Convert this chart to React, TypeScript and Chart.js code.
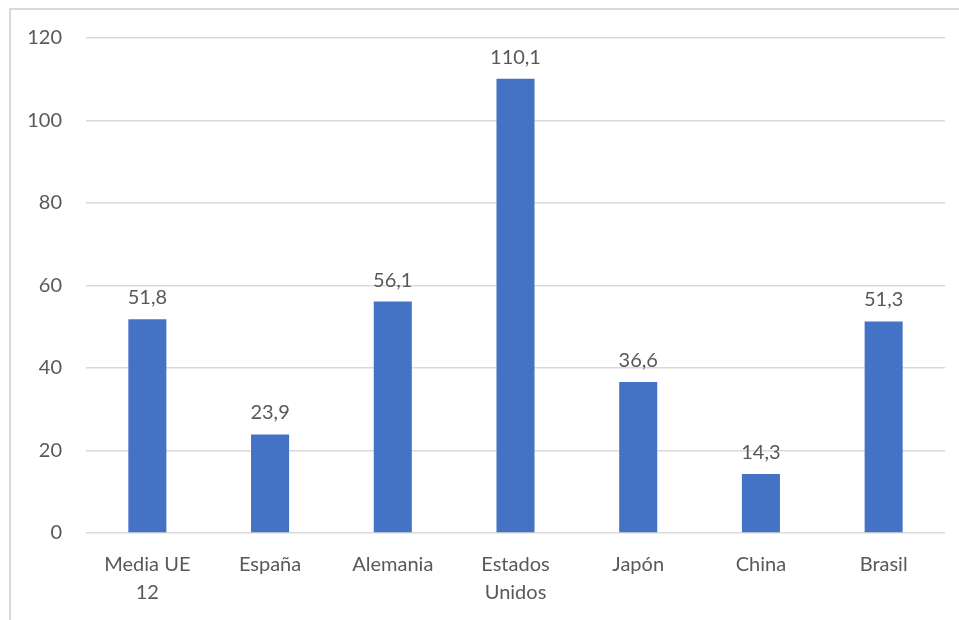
import React, { useEffect, useRef } from "react";
import { Chart, registerables } from "chart.js";

Chart.register(...registerables);

const categories: (string | string[])[] = [["Media UE", "12"], "España", "Alemania", ["Estados", "Unidos"], "Japón", "China", "Brasil"];
const values: number[] = [51.8, 23.9, 56.1, 110.1, 36.6, 14.3, 51.3];
const yTicks: number[] = [0, 20, 40, 60, 80, 100, 120];

const FONT = "Lato, 'Open Sans', sans-serif";
const TEXT = "#595959";

const labelPlugin = {
  id: "barLabels",
  afterDatasetsDraw(chart: any) {
    const ctx = chart.ctx;
    const meta = chart.getDatasetMeta(0);
    ctx.save();
    ctx.font = `20px ${FONT}`;
    ctx.fillStyle = TEXT;
    ctx.textAlign = "center";
    ctx.textBaseline = "alphabetic";
    meta.data.forEach((el: any, i: number) => {
      const txt = values[i].toFixed(1).replace(".", ",");
      ctx.fillText(txt, el.x, el.y - 15);
    });
    ctx.restore();
  },
};

export default function App() {
  const ref = useRef<HTMLCanvasElement>(null);
  useEffect(() => {
    if (!ref.current) return;
    const chart = new Chart(ref.current, {
      type: "bar",
      data: {
        labels: categories,
        datasets: [
          {
            data: values,
            backgroundColor: "#4472C4",
            barPercentage: 0.31,
            categoryPercentage: 1,
          },
        ],
      },
      options: {
        animation: false,
        responsive: false,
        maintainAspectRatio: false,
        layout: { padding: { left: 0, right: 14, top: 38, bottom: 0 } },
        plugins: { legend: { display: false }, tooltip: { enabled: false } },
        scales: {
          x: {
            grid: { display: false, drawTicks: false },
            border: { display: false },
            ticks: {
              color: TEXT,
              font: { family: FONT, size: 20, lineHeight: 1.4 },
              padding: 18,
              maxRotation: 0,
              autoSkip: false,
            },
            afterFit: (s: any) => {
              s.height = 87;
            },
          },
          y: {
            min: 0,
            max: 120,
            afterBuildTicks: (s: any) => {
              s.ticks = yTicks.map((v) => ({ value: v }));
            },
            grid: { color: "#d9d9d9", lineWidth: 1.5, drawTicks: false },
            border: { display: false },
            ticks: {
              color: TEXT,
              font: { family: FONT, size: 20 },
              padding: 24,
            },
            afterFit: (s: any) => {
              s.width = 86;
            },
          },
        },
      },
      plugins: [labelPlugin],
    });
    return () => chart.destroy();
  }, []);
  return (
    <div style={{ position: "fixed", left: 0, top: 0, width: 959, height: 620, background: "#fff", overflow: "hidden" }}>
      <div
        style={{
          position: "absolute",
          left: 9,
          top: 8,
          width: 960,
          height: 620,
          borderTop: "2px solid #d9d9d9",
          borderLeft: "2px solid #d9d9d9",
        }}
      />
      <canvas ref={ref} width={959} height={620} style={{ position: "absolute", left: 0, top: 0 }} />
    </div>
  );
}
